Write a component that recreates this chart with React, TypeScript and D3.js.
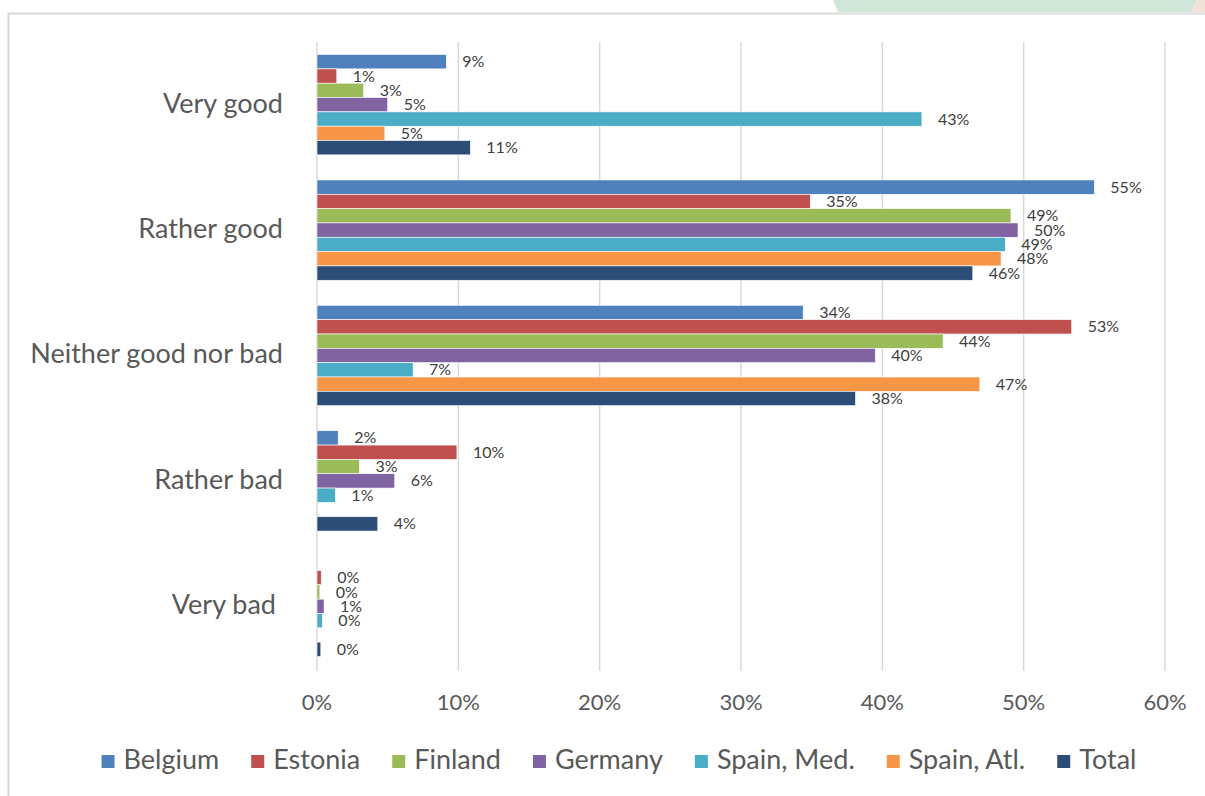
import React, { useEffect, useRef } from 'react';
import * as d3 from 'd3';

const categories = ['Very good', 'Rather good', 'Neither good nor bad', 'Rather bad', 'Very bad'];
const seriesNames = ['Belgium', 'Estonia', 'Finland', 'Germany', 'Spain, Med.', 'Spain, Atl.', 'Total'];
const seriesColors = ['#4F81BD', '#C0504D', '#9BBB59', '#8064A2', '#4BACC6', '#F79646', '#2C4D75'];

// values in %, null = no bar / no label
const belgium = [9.15, 55.0, 34.4, 1.5, null];
const estonia = [1.4, 34.9, 53.4, 9.9, 0.3];
const finland = [3.3, 49.1, 44.3, 3.0, 0.2];
const germany = [5.0, 49.6, 39.5, 5.5, 0.5];
const spainMed = [42.8, 48.7, 6.8, 1.3, 0.38];
const spainAtl = [4.8, 48.4, 46.9, null, null];
const total = [10.85, 46.4, 38.1, 4.3, 0.27];

const seriesValues = [belgium, estonia, finland, germany, spainMed, spainAtl, total];
const xTicks = [0, 10, 20, 30, 40, 50, 60];

const FONT = 'Lato, "Open Sans", sans-serif';

const App: React.FC = () => {
  const svgRef = useRef<SVGSVGElement>(null);

  useEffect(() => {
    if (!svgRef.current) return;
    const svg = d3.select(svgRef.current);
    svg.selectAll('*').remove();

    const width = 1205;
    const height = 796;

    // background decorations at the top
    svg
      .append('polygon')
      .attr('points', '833,0 1197,0 1191,12 838,12')
      .attr('fill', '#cfe6d8');
    svg
      .append('polygon')
      .attr('points', '1197,0 1205,0 1205,12 1191,12')
      .attr('fill', '#f2e3d8');

    // chart frame
    svg
      .append('path')
      .attr('d', `M8.5,${height} L8.5,13.5 L${width},13.5`)
      .attr('fill', 'none')
      .attr('stroke', '#d9d9d9')
      .attr('stroke-width', 2);

    const x = d3.scaleLinear().domain([0, 60]).range([317, 1165]);
    const y = d3.scaleBand<string>().domain(categories).range([42, 669]).padding(0);
    const bw = y.bandwidth();
    const inner = d3
      .scaleBand<string>()
      .domain(seriesNames)
      .range([bw * 0.1, bw * 0.9])
      .padding(0);

    // gridlines
    xTicks.forEach(t => {
      svg
        .append('line')
        .attr('x1', x(t))
        .attr('x2', x(t))
        .attr('y1', 42)
        .attr('y2', 671)
        .attr('stroke', '#d9d9d9')
        .attr('stroke-width', 1.5);

      svg
        .append('text')
        .attr('x', x(t))
        .attr('y', 704)
        .attr('text-anchor', 'middle')
        .attr('dominant-baseline', 'middle')
        .attr('fill', '#595959')
        .attr('font-family', FONT)
        .attr('font-size', '22px')
        .text(`${t}%`);
    });

    // category labels
    categories.forEach(c => {
      svg
        .append('text')
        .attr('x', c === 'Very bad' ? 276 : 283)
        .attr('y', (y(c) ?? 0) + bw / 2 + 1)
        .attr('text-anchor', 'end')
        .attr('dominant-baseline', 'middle')
        .attr('fill', '#595959')
        .attr('font-family', FONT)
        .attr('font-size', '27px')
        .text(c);
    });

    // bars + labels
    seriesValues.forEach((vals, si) => {
      const name = seriesNames[si];
      vals.forEach((v, ci) => {
        if (v === null) return;
        const y0 = (y(categories[ci]) ?? 0) + (inner(name) ?? 0);
        svg
          .append('rect')
          .attr('x', x(0))
          .attr('y', y0)
          .attr('width', x(v) - x(0))
          .attr('height', inner.bandwidth())
          .attr('fill', seriesColors[si])
          .attr('stroke', '#ffffff')
          .attr('stroke-width', 0.6);

        svg
          .append('text')
          .attr('x', x(v) + 16)
          .attr('y', y0 + inner.bandwidth() / 2 + 1.5)
          .attr('dominant-baseline', 'middle')
          .attr('fill', '#404040')
          .attr('font-family', FONT)
          .attr('font-size', '16px')
          .text(`${Math.round(v)}%`);
      });
    });

    // legend
    const gap = 32;
    const legend = svg.append('g');
    let cursor = 0;
    seriesNames.forEach((name, i) => {
      const g = legend.append('g').attr('transform', `translate(${cursor},0)`);
      g.append('rect')
        .attr('x', 0)
        .attr('y', -7)
        .attr('width', 13)
        .attr('height', 13)
        .attr('fill', seriesColors[i]);
      const t = g
        .append('text')
        .attr('x', 22)
        .attr('y', 0)
        .attr('dominant-baseline', 'middle')
        .attr('fill', '#595959')
        .attr('font-family', FONT)
        .attr('font-size', '27px')
        .text(name);
      const w = (t.node() as SVGTextElement).getComputedTextLength();
      cursor += 22 + w + gap;
    });
    const legendWidth = cursor - gap;
    legend.attr('transform', `translate(${619 - legendWidth / 2},762)`);
  }, []);

  return (
    <svg
      ref={svgRef}
      width={1205}
      height={796}
      style={{ position: 'absolute', left: 0, top: 0, background: '#ffffff' }}
    />
  );
};

export default App;
